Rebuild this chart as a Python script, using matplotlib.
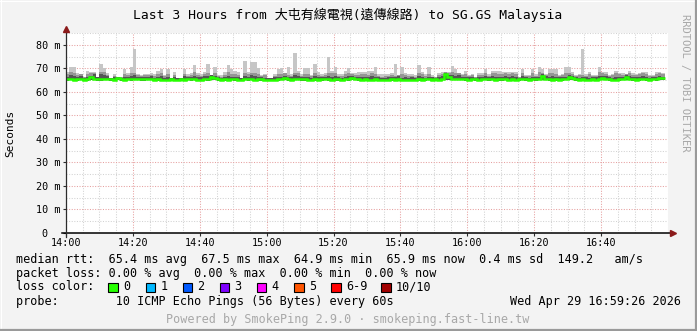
import matplotlib
matplotlib.use('Agg')
import matplotlib.pyplot as plt
from matplotlib.patches import Rectangle
from matplotlib.ticker import MultipleLocator
import numpy as np

W, H = 697, 331

title = 'Last 3 Hours from 大屯有線電視(遠傳線路) to SG.GS Malaysia'
x_ticks = [0, 20, 40, 60, 80, 100, 120, 140, 160]
x_labels = ['14:00', '14:20', '14:40', '15:00', '15:20', '15:40', '16:00', '16:20', '16:40']
y_ticks = [0, 10, 20, 30, 40, 50, 60, 70, 80]
y_labels = ['0  ', '10 m', '20 m', '30 m', '40 m', '50 m', '60 m', '70 m', '80 m']

# one value per minute since 14:00 (ms)
top = [68.5, 70.5, 70.5, 68.0, 67.5, 66.5, 69.0, 68.5, 68.5, 66.5,
       72.0, 70.0, 68.0, 66.0, 67.5, 66.5, 66.5, 69.5, 68.0, 70.5,
       78.0, 67.5, 67.0, 67.5, 67.5, 68.0, 67.5, 69.0, 69.5, 67.0,
       69.5, 66.0, 68.5, 66.0, 66.0, 69.5, 67.5, 68.0, 71.5, 68.0,
       67.5, 68.5, 72.0, 67.0, 70.5, 67.0, 67.0, 68.5, 71.5, 69.5,
       69.0, 68.5, 66.0, 73.0, 68.5, 72.5, 72.5, 70.0, 67.0, 67.5,
       66.0, 66.0, 67.5, 69.5, 70.0, 67.5, 70.5, 67.5, 76.5, 69.0,
       67.5, 70.0, 70.0, 67.0, 72.0, 68.5, 67.5, 68.0, 75.0, 69.0,
       70.5, 67.5, 67.5, 69.0, 70.0, 68.0, 68.0, 68.5, 68.5, 68.5,
       69.0, 69.0, 70.5, 67.5, 67.5, 67.5, 67.5, 68.0, 72.0, 67.0,
       70.5, 68.0, 67.5, 67.5, 67.0, 71.5, 68.5, 67.5, 70.5, 67.0,
       66.5, 68.0, 68.5, 68.5, 68.5, 71.0, 69.5, 68.0, 67.5, 69.0,
       67.0, 67.5, 66.5, 68.0, 68.0, 69.5, 67.5, 69.0, 69.0, 69.0,
       68.5, 68.5, 68.5, 68.5, 68.5, 66.5, 69.5, 67.0, 67.0, 69.5,
       67.5, 70.5, 69.5, 67.5, 69.5, 69.5, 69.5, 67.0, 67.5, 70.5,
       70.5, 68.5, 67.0, 67.5, 78.0, 67.5, 68.5, 67.0, 67.0, 70.5,
       68.5, 68.5, 67.0, 67.5, 69.0, 68.0, 68.0, 67.5, 69.0, 68.0,
       67.5, 68.0, 68.5, 68.5, 67.0, 67.0, 68.5, 68.5, 68.0]

mid = [67.5, 68.4, 68.0, 67.0, 67.4, 66.3, 67.6, 67.8, 68.2, 66.4,
       68.5, 68.4, 67.3, 66.0, 66.9, 66.5, 66.3, 67.4, 67.0, 68.0,
       67.8, 67.0, 66.8, 67.2, 67.0, 67.3, 66.9, 67.4, 68.0, 66.6,
       67.5, 66.0, 67.0, 66.0, 66.0, 67.6, 66.9, 67.0, 68.5, 67.2,
       66.9, 67.5, 68.2, 67.0, 68.2, 66.6, 66.5, 67.2, 68.4, 67.6,
       67.4, 67.3, 66.0, 68.0, 67.5, 68.2, 67.9, 67.6, 66.8, 67.0,
       66.0, 66.0, 66.8, 67.6, 67.5, 68.0, 67.0, 66.9, 68.2, 67.8,
       66.9, 67.6, 67.5, 66.6, 68.0, 67.2, 66.8, 67.0, 68.0, 67.9,
       67.8, 66.9, 66.8, 67.5, 68.0, 67.4, 67.0, 67.2, 67.4, 67.5,
       67.2, 67.8, 67.7, 66.8, 66.5, 66.8, 66.9, 67.2, 66.9, 67.0,
       67.5, 67.2, 66.6, 66.9, 66.5, 67.8, 67.5, 66.9, 67.6, 66.5,
       66.2, 67.0, 67.5, 68.3, 68.0, 68.4, 68.0, 67.8, 67.2, 67.6,
       66.6, 67.0, 66.1, 67.2, 67.0, 68.0, 66.9, 68.0, 67.8, 67.6,
       67.5, 67.9, 67.4, 67.8, 67.6, 66.2, 68.0, 66.7, 66.6, 67.8,
       66.9, 68.4, 68.2, 67.0, 67.8, 68.0, 67.6, 66.6, 67.0, 68.0,
       68.2, 67.6, 66.6, 67.0, 67.0, 66.8, 67.4, 66.6, 66.7, 68.4,
       67.8, 67.6, 66.6, 67.2, 67.8, 67.4, 67.3, 67.4, 68.0, 67.3,
       67.0, 67.4, 67.8, 67.6, 66.6, 66.8, 67.6, 67.8, 67.4]

dark = [66.5, 67.2, 66.8, 66.3, 66.9, 66.0, 66.4, 66.9, 67.5, 66.2,
        67.4, 67.0, 66.8, 66.0, 66.3, 66.4, 66.0, 66.5, 66.4, 66.9,
        67.0, 66.4, 66.2, 66.5, 66.3, 66.6, 66.0, 66.2, 66.9, 66.0,
        66.3, 65.9, 66.4, 65.8, 66.0, 66.6, 66.2, 66.1, 66.8, 66.3,
        66.2, 66.6, 66.9, 67.0, 66.8, 66.1, 66.0, 66.3, 66.9, 66.5,
        66.2, 66.4, 65.9, 66.9, 66.2, 67.0, 66.8, 66.4, 66.1, 66.0,
        65.8, 65.9, 66.2, 66.5, 66.3, 66.8, 66.2, 66.4, 67.0, 66.6,
        66.1, 66.5, 66.3, 66.0, 66.9, 66.2, 66.1, 66.3, 66.9, 66.5,
        66.6, 66.2, 66.0, 66.5, 66.7, 66.6, 66.3, 66.4, 66.2, 66.3,
        66.2, 66.6, 66.4, 66.1, 65.9, 66.0, 66.2, 66.1, 66.3, 66.8,
        66.0, 66.3, 65.9, 66.1, 66.0, 66.8, 66.2, 66.0, 66.4, 66.1,
        66.0, 66.2, 66.6, 68.0, 67.3, 67.0, 66.9, 67.2, 66.5, 66.2,
        66.1, 66.4, 66.0, 66.3, 66.2, 66.8, 66.1, 66.6, 66.3, 66.5,
        66.3, 66.6, 66.2, 66.9, 66.3, 66.0, 66.8, 66.2, 66.0, 66.5,
        66.2, 66.4, 67.4, 66.9, 66.2, 66.6, 66.4, 66.1, 66.2, 66.5,
        67.2, 66.9, 66.3, 66.0, 66.4, 66.1, 66.0, 66.3, 66.1, 66.8,
        66.9, 66.7, 66.3, 66.0, 66.4, 66.2, 66.5, 67.2, 66.6, 66.2,
        66.1, 66.4, 66.6, 66.2, 66.0, 66.3, 66.2, 66.9, 66.4]

lo = [64.8, 64.9, 64.8, 64.8, 64.9, 64.7, 64.8, 65.0, 64.9, 64.8,
      64.8, 64.9, 64.9, 64.8, 64.7, 64.9, 64.8, 64.7, 64.9, 64.8,
      65.0, 64.9, 64.8, 64.8, 64.9, 64.9, 64.7, 64.8, 64.7, 64.7,
      64.5, 64.8, 64.7, 64.6, 64.8, 64.7, 64.9, 64.8, 64.9, 64.7,
      64.7, 64.9, 64.8, 65.0, 64.9, 64.8, 64.7, 64.8, 64.7, 64.9,
      64.8, 64.7, 64.7, 64.9, 64.8, 64.9, 64.7, 64.8, 64.8, 64.6,
      64.5, 64.6, 64.7, 64.8, 64.9, 65.1, 64.8, 64.7, 64.9, 64.9,
      64.8, 64.8, 64.7, 64.6, 64.8, 64.7, 64.8, 64.9, 64.8, 64.7,
      64.8, 64.8, 64.6, 64.9, 64.8, 65.1, 64.9, 64.8, 64.7, 64.8,
      64.6, 64.7, 64.9, 64.7, 64.5, 64.7, 64.6, 64.8, 64.7, 64.8,
      64.6, 64.7, 64.4, 64.7, 64.6, 64.8, 64.7, 64.8, 64.9, 64.7,
      64.8, 64.7, 64.9, 65.2, 65.2, 65.0, 64.9, 65.0, 64.9, 64.8,
      64.7, 64.9, 64.8, 64.7, 64.9, 65.0, 64.8, 64.9, 64.7, 64.8,
      64.8, 64.9, 64.7, 64.8, 64.7, 64.8, 64.9, 64.8, 64.7, 64.9,
      64.8, 64.9, 65.2, 64.9, 64.8, 64.7, 64.8, 64.7, 64.8, 64.9,
      65.2, 65.1, 64.8, 64.7, 64.8, 64.7, 64.6, 64.8, 64.7, 64.9,
      65.1, 64.9, 64.8, 64.6, 64.7, 64.8, 64.9, 65.2, 64.9, 64.8,
      64.7, 64.8, 64.9, 64.8, 64.7, 64.9, 64.8, 65.1, 65.2]

med = [65.3, 65.3, 65.2, 65.3, 65.4, 65.2, 65.3, 66.2, 65.6, 65.3,
       65.4, 65.3, 65.5, 65.3, 65.2, 66.0, 65.3, 65.2, 65.4, 65.3,
       65.6, 65.5, 65.3, 65.3, 65.4, 65.5, 65.2, 65.3, 65.2, 65.2,
       65.0, 65.3, 65.2, 65.1, 65.3, 65.2, 65.4, 65.3, 65.5, 65.2,
       65.2, 65.5, 65.3, 66.2, 66.0, 65.3, 65.2, 65.3, 65.2, 65.4,
       65.3, 65.2, 65.2, 65.4, 65.3, 65.5, 65.2, 65.3, 65.3, 65.1,
       65.0, 65.1, 65.2, 65.3, 65.5, 65.9, 65.3, 65.2, 65.6, 65.4,
       65.3, 65.3, 65.2, 65.1, 65.3, 65.2, 65.3, 65.4, 65.3, 65.2,
       65.3, 65.3, 65.1, 65.4, 65.3, 65.9, 65.4, 65.3, 65.2, 65.3,
       65.1, 65.2, 65.4, 65.2, 65.0, 65.2, 65.1, 65.3, 65.2, 65.3,
       65.1, 65.2, 64.9, 65.2, 65.1, 65.3, 65.2, 65.3, 65.4, 65.2,
       65.3, 65.2, 65.5, 67.5, 66.2, 65.6, 65.4, 65.6, 65.4, 65.3,
       65.2, 65.5, 65.3, 65.2, 65.4, 65.6, 65.3, 65.4, 65.2, 65.3,
       65.3, 65.4, 65.2, 65.3, 65.2, 65.3, 65.4, 65.3, 65.2, 65.4,
       65.3, 65.5, 66.8, 65.4, 65.3, 65.2, 65.3, 65.2, 65.3, 65.5,
       66.2, 66.0, 65.3, 65.2, 65.3, 65.2, 65.1, 65.3, 65.2, 65.4,
       65.8, 65.5, 65.3, 65.1, 65.2, 65.3, 65.5, 66.3, 65.4, 65.3,
       65.2, 65.3, 65.4, 65.3, 65.2, 65.4, 65.3, 66.0, 65.9]

stats_lines = [
    'median rtt:  65.4 ms avg  67.5 ms max  64.9 ms min  65.9 ms now  0.4 ms sd  149.2   am/s',
    'packet loss: 0.00 % avg  0.00 % max  0.00 % min  0.00 % now',
]
loss_names = ['0', '1', '2', '3', '4', '5', '6-9', '10/10']
loss_colors = ['#26ff00', '#00b8ff', '#0059ff', '#7e00ff', '#ff00ff', '#ff5500', '#ff0000', '#a10000']
probe_text = 'probe:        10 ICMP Echo Pings (56 Bytes) every 60s'
date_text = 'Wed Apr 29 16:59:26 2026'
footer = 'Powered by SmokePing 2.9.0 · smokeping.fast-line.tw'

MONO = ['DejaVu Sans Mono', 'Noto Sans CJK TC']
AXCOL = '#2c2c2c'
ARROW = '#8b1a1a'


def fx(x):
    return x / W


def fy(y):
    return 1 - y / H


fig = plt.figure(figsize=(W / 100, H / 100), dpi=100, facecolor='#f3f3f3')

# plot area: 66..668 px wide, 33..233 px tall
ax = fig.add_axes([fx(66), fy(233), fx(668) - fx(66), fy(33) - fy(233)])
ax.set_facecolor('white')

edges = np.arange(len(top) + 1)
ax.stairs(top, edges, baseline=lo, fill=True, color='#c6c6c6', lw=0, zorder=2)
ax.stairs(mid, edges, baseline=lo, fill=True, color='#959595', lw=0, zorder=3)
ax.stairs(dark, edges, baseline=lo, fill=True, color='#555555', lw=0, zorder=4)
ax.stairs(med, edges, baseline=None, color='#26ff00', lw=1.8, zorder=6)

ax.set_xlim(0, 180)
ax.set_ylim(0, 85)

ax.set_xticks(x_ticks)
ax.set_xticklabels(x_labels, family=MONO, fontsize=7.3)
ax.set_yticks(y_ticks)
ax.set_yticklabels(y_labels, family=MONO, fontsize=7.3)
ax.xaxis.set_minor_locator(MultipleLocator(5))
ax.yaxis.set_minor_locator(MultipleLocator(5))
ax.tick_params(which='major', length=2.5, width=0.8, color=AXCOL, pad=1.5)
ax.tick_params(which='minor', length=0)
ax.tick_params(axis='x', pad=1)

ax.grid(which='minor', color='#d2d2d2', lw=0.75, ls=(0, (1, 1.5)), zorder=5)
ax.grid(which='major', color='#e6a0a0', lw=0.75, ls=(0, (1, 1.5)), zorder=5)

for s in ax.spines.values():
    s.set_visible(False)

# axis lines with arrow heads
ax.plot([-0.007, 1.006], [0, 0], color='black', lw=1.1, transform=ax.transAxes, clip_on=False, zorder=7)
ax.plot([0, 0], [-0.02, 1.01], color=AXCOL, lw=0.9, transform=ax.transAxes, clip_on=False, zorder=7)
ax.plot([1.009], [0], marker='>', ms=4, color=ARROW, transform=ax.transAxes, clip_on=False, zorder=8)
ax.plot([0], [1.02], marker='^', ms=4, color=ARROW, transform=ax.transAxes, clip_on=False, zorder=8)

fig.text(fx(10), fy(133), 'Seconds', rotation=90, ha='center', va='center', family=MONO, fontsize=8)
fig.text(fx(348), fy(15), title, ha='center', va='center', family=MONO, fontsize=9.4)
fig.text(fx(685), fy(83), 'RRDTOOL / TOBI OETIKER', rotation=270, ha='center', va='center',
         family=MONO, fontsize=7.5, color='#a8a8a8')

fig.text(fx(16), fy(259), stats_lines[0], ha='left', va='center', family=MONO, fontsize=8.5)
fig.text(fx(16), fy(273), stats_lines[1], ha='left', va='center', family=MONO, fontsize=8.5)
fig.text(fx(16), fy(287), 'loss color:', ha='left', va='center', family=MONO, fontsize=8.5)

box_x = [108, 145.5, 182.5, 219.5, 256.5, 294, 331, 381]
for bx, name, col in zip(box_x, loss_names, loss_colors):
    fig.patches.append(Rectangle((fx(bx), fy(292)), 9.5 / W, 9.5 / H, transform=fig.transFigure,
                                 facecolor=col, edgecolor='black', lw=0.8))
    fig.text(fx(bx + 15), fy(287), name, ha='left', va='center', family=MONO, fontsize=8.5)

fig.text(fx(16), fy(301), probe_text, ha='left', va='center', family=MONO, fontsize=8.5)
fig.text(fx(681), fy(301), date_text, ha='right', va='center', family=MONO, fontsize=8.5)
fig.text(fx(348), fy(319), footer, ha='center', va='center', family=MONO, fontsize=8.5, color='#a8a8a8')

# frame of the image
fig.add_artist(plt.Line2D([fx(0.5), fx(0.5)], [fy(0), fy(331)], color='white', lw=0.8))
fig.add_artist(plt.Line2D([fx(0), fx(697)], [fy(0.5), fy(0.5)], color='white', lw=0.8))
fig.add_artist(plt.Line2D([fx(695.5), fx(695.5)], [fy(0), fy(331)], color='#9a9a9a', lw=1.6))
fig.add_artist(plt.Line2D([fx(0), fx(697)], [fy(329.5), fy(329.5)], color='#9a9a9a', lw=1.6))

fig.savefig('out.png', dpi=100, facecolor=fig.get_facecolor())
